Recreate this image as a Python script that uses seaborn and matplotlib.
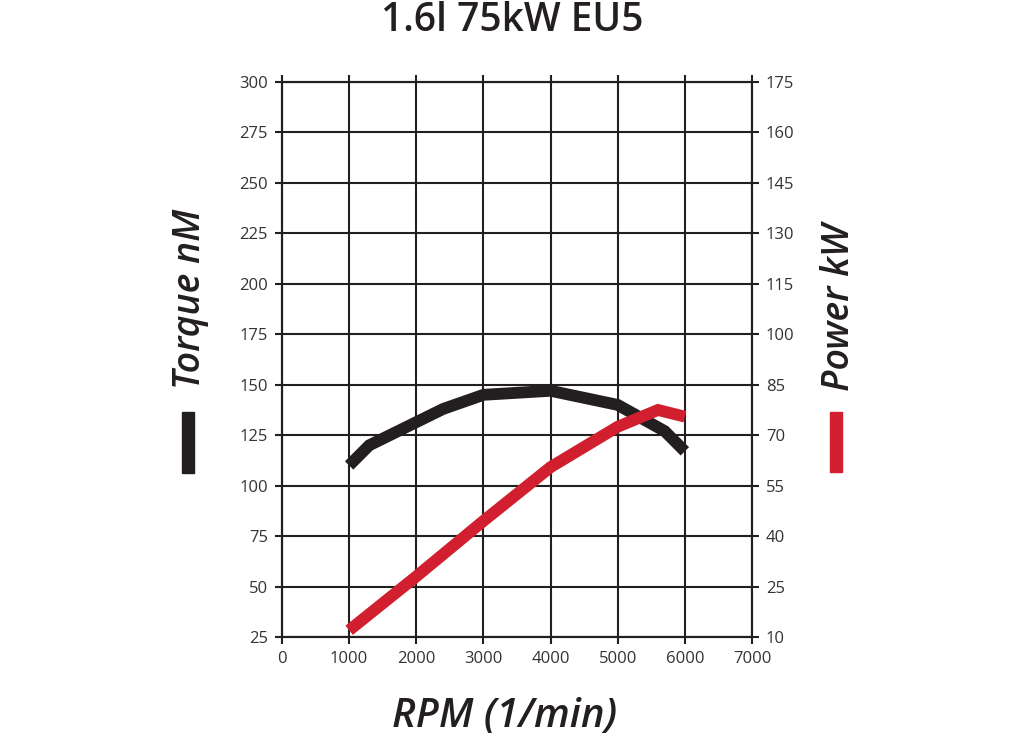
"""Engine torque / power curve, 1.6l 75kW EU5."""
import matplotlib

matplotlib.use("Agg")
import matplotlib.pyplot as plt
import pandas as pd
import seaborn as sns
from matplotlib.patches import Rectangle

rpm_torque = [1000, 1300, 2400, 3000, 4000, 5000, 5700, 6000]
torque_nm = [110, 120, 138, 145, 147, 140, 127, 117]

rpm_power = [1000, 2000, 3000, 4000, 5000, 5600, 6000]
power_kw = [12, 28, 44.5, 60.5, 72.5, 77.5, 75.5]

left_ticks = list(range(25, 301, 25))
right_ticks = list(range(10, 176, 15))
x_ticks = list(range(0, 7001, 1000))

BLACK = "#231f20"
RED = "#d21f2f"

sns.set_theme(style="white")
plt.rcParams["font.family"] = ["Open Sans", "DejaVu Sans"]

torque_df = pd.DataFrame({"rpm": rpm_torque, "torque": torque_nm})
power_df = pd.DataFrame({"rpm": rpm_power, "power": power_kw})

fig = plt.figure(figsize=(10.24, 7.4), dpi=100)
ax = fig.add_axes([282 / 1024, 1 - 637 / 740, 470 / 1024, 555 / 740])
ax2 = ax.twinx()

sns.lineplot(data=torque_df, x="rpm", y="torque", ax=ax, color=BLACK,
             linewidth=8.5, solid_capstyle="butt", solid_joinstyle="miter", zorder=3)
sns.lineplot(data=power_df, x="rpm", y="power", ax=ax2, color=RED,
             linewidth=8.5, solid_capstyle="butt", solid_joinstyle="miter", zorder=3)

ax.set_xlim(0, 7000)
ax.set_ylim(25, 300)
ax2.set_ylim(10, 175)
ax.set_xticks(x_ticks)
ax.set_yticks(left_ticks)
ax2.set_yticks(right_ticks)

ax.grid(True, color=BLACK, linewidth=1.5)
for a in (ax, ax2):
    for s in a.spines.values():
        s.set_color(BLACK)
        s.set_linewidth(1.5)
    a.set_xlabel("")
    a.set_ylabel("")

ax.tick_params(axis="both", direction="out", length=5, width=1.5, color=BLACK,
               labelsize=12, labelcolor="#333333", pad=5)
ax.tick_params(axis="x", top=True, bottom=True)
ax2.tick_params(axis="y", direction="out", length=5, width=1.5, color=BLACK,
                labelsize=12, labelcolor="#333333", pad=5)

fig.text(0.5, 0.972, "1.6l 75kW EU5", ha="center", va="center",
         fontsize=28, fontweight="semibold", color=BLACK)
fig.text(0.493, 0.031, "RPM (1/min)", ha="center", va="center",
         fontsize=29, style="italic", fontweight="semibold", color=BLACK)
fig.text(0.1855, 0.596, "Torque nM", ha="center", va="center", rotation=90,
         fontsize=27, style="italic", fontweight="semibold", color=BLACK)
fig.text(0.819, 0.585, "Power kW", ha="center", va="center", rotation=90,
         fontsize=27, style="italic", fontweight="semibold", color=BLACK)

fig.patches.append(Rectangle((182 / 1024, 1 - 473 / 740), 12 / 1024, 61 / 740,
                             transform=fig.transFigure, color=BLACK))
fig.patches.append(Rectangle((830 / 1024, 1 - 472 / 740), 12 / 1024, 60 / 740,
                             transform=fig.transFigure, color=RED))

fig.savefig("out.png", dpi=100, facecolor="white")
